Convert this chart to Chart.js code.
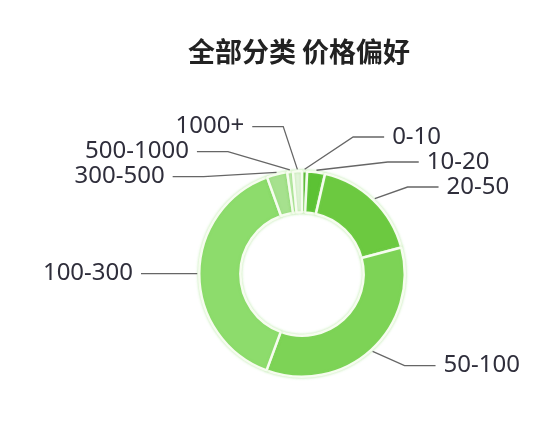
<!DOCTYPE html>
<html>
<head>
<meta charset="utf-8">
<script src="https://cdn.jsdelivr.net/npm/chart.js@4"></script>
<style>
  html, body { margin: 0; padding: 0; background: #fff; }
  #wrap { width: 560px; height: 428px; position: relative; }
</style>
</head>
<body>
<div id="wrap"><canvas id="chart"></canvas></div>
<script>
const titleText = "全部分类 价格偏好";
const priceRanges = ["0-10", "10-20", "20-50", "50-100", "100-300", "300-500", "500-1000", "1000+"];
const shares = [0.8, 2.8, 17.2, 34.7, 38.8, 3.2, 0.9, 1.4];
const sliceColors = ["#4cb02a", "#5cc234", "#6cc940", "#7dd356", "#8ddc6c", "#a6e18e", "#c4eab4", "#e4f4dc"];

// title drawn by hand so it doesn't eat layout space
const titlePlugin = {
    id: "titleText",
    afterDraw(chart) {
        const ctx = chart.ctx;
        ctx.save();
        ctx.font = "bold 27px 'Noto Sans CJK SC', sans-serif";
        ctx.fillStyle = "#222";
        ctx.textAlign = "center";
        ctx.textBaseline = "middle";
        ctx.fillText(titleText, 299, 52);
        ctx.restore();
    }
};

// soft green glow round the ring
const glowPlugin = {
    id: "glow",
    beforeDatasetsDraw(chart) {
        chart.ctx.save();
        chart.ctx.shadowColor = "rgba(130, 215, 100, 0.45)";
        chart.ctx.shadowBlur = 3;
    },
    afterDatasetsDraw(chart) {
        chart.ctx.restore();
    }
};

// outside labels with elbow leader lines
const leaderPlugin = {
    id: "leaders",
    afterDatasetsDraw(chart) {
        const ctx = chart.ctx;
        const meta = chart.getDatasetMeta(0);
        const elbowR = 124, gap = 25, ellA = 130, ellB = 149, len2 = 31, textGap = 8;
        let items = [];
        meta.data.forEach((arc, i) => {
            const p = arc.getProps(["x", "y", "startAngle", "endAngle", "outerRadius"], true);
            const mid = (p.startAngle + p.endAngle) / 2;
            const cos = Math.cos(mid), sin = Math.sin(mid);
            items.push({
                label: chart.data.labels[i],
                cx: p.x, cy: p.y,
                ax: p.x + cos * (p.outerRadius + 2),
                ay: p.y + sin * (p.outerRadius + 2),
                right: cos >= 0,
                y: p.y + sin * elbowR
            });
        });

        // spread labels on each side so they don't overlap
        [true, false].forEach(side => {
            let list = items.filter(it => it.right == side).sort((a, b) => a.y - b.y);
            let groups = list.map(it => ({ members: [it], mean: it.y }));
            let merged = true;
            while (merged) {
                merged = false;
                for (let g = 0; g < groups.length - 1; g++) {
                    const a = groups[g], b = groups[g + 1];
                    const aLast = a.mean + (a.members.length - 1) * gap / 2;
                    const bFirst = b.mean - (b.members.length - 1) * gap / 2;
                    if (bFirst - aLast < gap) {
                        const members = a.members.concat(b.members);
                        const mean = members.reduce((s, m) => s + m.y, 0) / members.length;
                        groups.splice(g, 2, { members: members, mean: mean });
                        merged = true;
                        break;
                    }
                }
            }
            groups.forEach(g => {
                const n = g.members.length;
                g.members.forEach((m, k) => {
                    m.ly = g.mean - (n - 1) * gap / 2 + k * gap;
                });
            });
        });

        ctx.save();
        ctx.strokeStyle = "#666";
        ctx.lineWidth = 1.3;
        ctx.fillStyle = "#2f2e3b";
        ctx.font = "24px 'Noto Sans', sans-serif";
        ctx.textBaseline = "middle";
        items.forEach(it => {
            const dy = it.ly - it.cy;
            const f = Math.sqrt(Math.max(0, 1 - (dy / ellB) * (dy / ellB)));
            const dir = it.right ? 1 : -1;
            const ex = it.cx + dir * ellA * f;
            const endX = ex + dir * len2;
            ctx.beginPath();
            ctx.moveTo(it.ax, it.ay);
            ctx.lineTo(ex, it.ly);
            ctx.lineTo(endX, it.ly);
            ctx.stroke();
            ctx.textAlign = it.right ? "left" : "right";
            ctx.fillText(it.label, endX + dir * textGap, it.ly);
        });
        ctx.restore();
    }
};

new Chart(document.getElementById("chart"), {
    type: "doughnut",
    data: {
        labels: priceRanges,
        datasets: [{
            data: shares,
            backgroundColor: sliceColors,
            borderColor: "#f6fcef",
            borderWidth: 2.5
        }]
    },
    options: {
        responsive: true,
        maintainAspectRatio: false,
        animation: false,
        cutout: "60%",
        layout: {
            padding: { left: 198, right: 154, top: 170, bottom: 50 }
        },
        plugins: {
            legend: { display: false },
            tooltip: { enabled: false }
        }
    },
    plugins: [glowPlugin, leaderPlugin, titlePlugin]
});
</script>
</body>
</html>
